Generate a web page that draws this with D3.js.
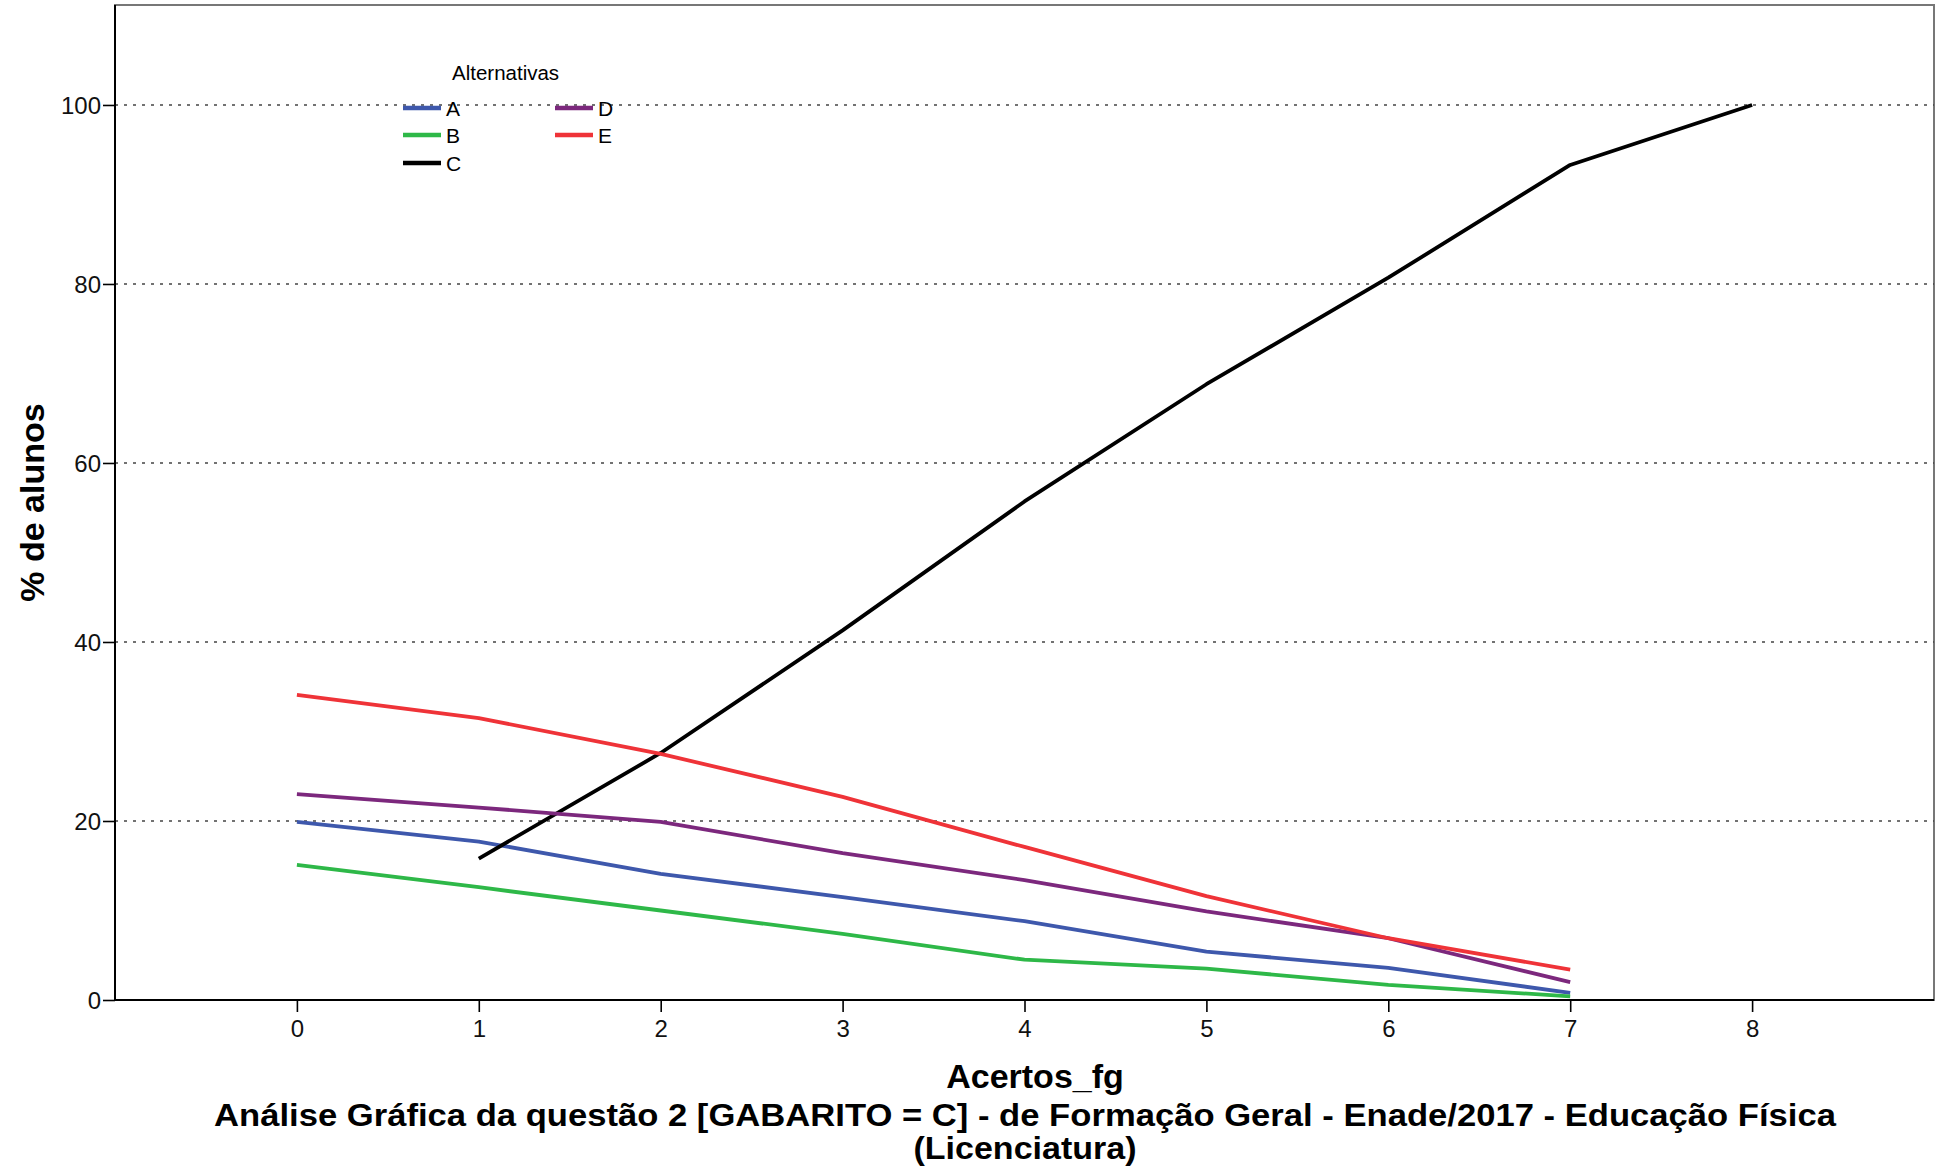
<!DOCTYPE html>
<html>
<head>
<meta charset="utf-8">
<script src="https://cdn.jsdelivr.net/npm/d3@7"></script>
<style>
  html, body { margin: 0; padding: 0; background: #fff; }
  svg { display: block; font-family: "Liberation Sans", Arial, sans-serif; }
</style>
</head>
<body>
<svg id="chart" width="1941" height="1171"></svg>
<script>
// ---- data ----
const acertos = [0, 1, 2, 3, 4, 5, 6, 7, 8];
const xTickValues = [0, 1, 2, 3, 4, 5, 6, 7, 8];
const yTickValues = [0, 20, 40, 60, 80, 100];
const alternativas = ["A", "B", "C", "D", "E"];
const serieA = [19.9, 17.7, 14.1, 11.5, 8.8, 5.4, 3.6, 0.8];
const serieB = [15.1, 12.6, 10.0, 7.4, 4.5, 3.5, 1.7, 0.4];
const serieC = [null, 15.8, 27.6, 41.3, 55.7, 68.8, 80.7, 93.3, 100.0];
const serieD = [23.0, 21.5, 19.9, 16.4, 13.4, 9.9, 6.9, 2.0];
const serieE = [34.1, 31.5, 27.5, 22.7, 17.1, 11.6, 6.9, 3.4];
const cores = ["#3E58AC", "#2EB848", "#000000", "#7C287D", "#EF3338"];
const titulo1 = "Análise Gráfica da questão 2 [GABARITO = C] - de Formação Geral - Enade/2017 - Educação Física";
const titulo2 = "(Licenciatura)";
const xTitulo = "Acertos_fg";
const yTitulo = "% de alunos";
const legendaTitulo = "Alternativas";

const series = [serieA, serieB, serieC, serieD, serieE].map((vals, i) => ({
  name: alternativas[i],
  color: cores[i],
  points: vals.map((v, j) => ({ x: acertos[j], y: v })).filter(p => p.y !== null && p.y !== undefined)
}));

// ---- layout ----
const svg = d3.select("#chart");
const L = 115, R = 1934, T = 5, B = 1000;
const x = d3.scaleLinear().domain([-1, 9]).range([L, R]);
const y = d3.scaleLinear().domain([0, 111.17]).range([B, T]);

// plot frame (top/right)
svg.append("rect")
  .attr("x", L).attr("y", T).attr("width", R - L).attr("height", B - T)
  .attr("fill", "none").attr("stroke", "#777").attr("stroke-width", 2);

// gridlines
svg.append("g").selectAll("line").data(yTickValues).join("line")
  .attr("x1", L).attr("x2", R)
  .attr("y1", d => y(d)).attr("y2", d => y(d))
  .attr("stroke", "#444").attr("stroke-width", 1.6)
  .attr("stroke-dasharray", "3,6");

// axes
const xAxis = svg.append("g").attr("transform", `translate(0,${B})`)
  .call(d3.axisBottom(x).tickValues(xTickValues).tickSize(12).tickPadding(8).tickFormat(d3.format("d")));
const yAxis = svg.append("g").attr("transform", `translate(${L},0)`)
  .call(d3.axisLeft(y).tickValues(yTickValues).tickSize(12).tickPadding(2).tickFormat(d3.format("d")));
[xAxis, yAxis].forEach(a => {
  a.select(".domain").attr("stroke", "#000").attr("stroke-width", 2);
  a.selectAll(".tick line").attr("stroke", "#000").attr("stroke-width", 1.6);
  a.selectAll(".tick text").attr("fill", "#111").attr("font-size", 24)
    .attr("font-family", "'Liberation Sans', Arial, sans-serif");
});
xAxis.select(".domain").attr("d", `M${L},0H${R}`);
yAxis.select(".domain").attr("d", `M0,${T}V${B}`);
yAxis.selectAll(".tick text").attr("dy", "0.36em");

// lines
const line = d3.line().x(d => x(d.x)).y(d => y(d.y));
svg.append("g").selectAll("path").data(series).join("path")
  .attr("d", d => line(d.points))
  .attr("fill", "none")
  .attr("stroke", d => d.color)
  .attr("stroke-width", 3.8)
  .attr("stroke-linejoin", "round")
  .attr("stroke-linecap", "butt");

// legend
const leg = svg.append("g");
leg.append("text").attr("x", 452).attr("y", 80).attr("font-size", 20.5).attr("fill", "#000").text(legendaTitulo);
const legPos = [
  { cx: 403, cy: 108 }, { cx: 403, cy: 135 }, { cx: 403, cy: 163 },
  { cx: 555, cy: 108 }, { cx: 555, cy: 135 }
];
series.forEach((s, i) => {
  const p = legPos[i];
  leg.append("line").attr("x1", p.cx).attr("x2", p.cx + 38)
    .attr("y1", p.cy).attr("y2", p.cy)
    .attr("stroke", s.color).attr("stroke-width", 4.5);
  leg.append("text").attr("x", p.cx + 43).attr("y", p.cy + 8)
    .attr("font-size", 21).attr("fill", "#000").text(s.name);
});

// axis titles
svg.append("text").attr("x", 1035).attr("y", 1088)
  .attr("text-anchor", "middle").attr("font-size", 34).attr("font-weight", "bold")
  .text(xTitulo);
svg.append("text").attr("transform", `translate(44,${(T + B) / 2}) rotate(-90)`)
  .attr("text-anchor", "middle").attr("font-size", 34).attr("font-weight", "bold")
  .text(yTitulo);

// chart title
svg.append("text").attr("x", 1025).attr("y", 1126)
  .attr("text-anchor", "middle").attr("font-size", 31).attr("font-weight", "bold")
  .attr("textLength", 1622).attr("lengthAdjust", "spacingAndGlyphs")
  .text(titulo1);
svg.append("text").attr("x", 1025).attr("y", 1159)
  .attr("text-anchor", "middle").attr("font-size", 31).attr("font-weight", "bold")
  .attr("textLength", 223).attr("lengthAdjust", "spacingAndGlyphs")
  .text(titulo2);
</script>
</body>
</html>
